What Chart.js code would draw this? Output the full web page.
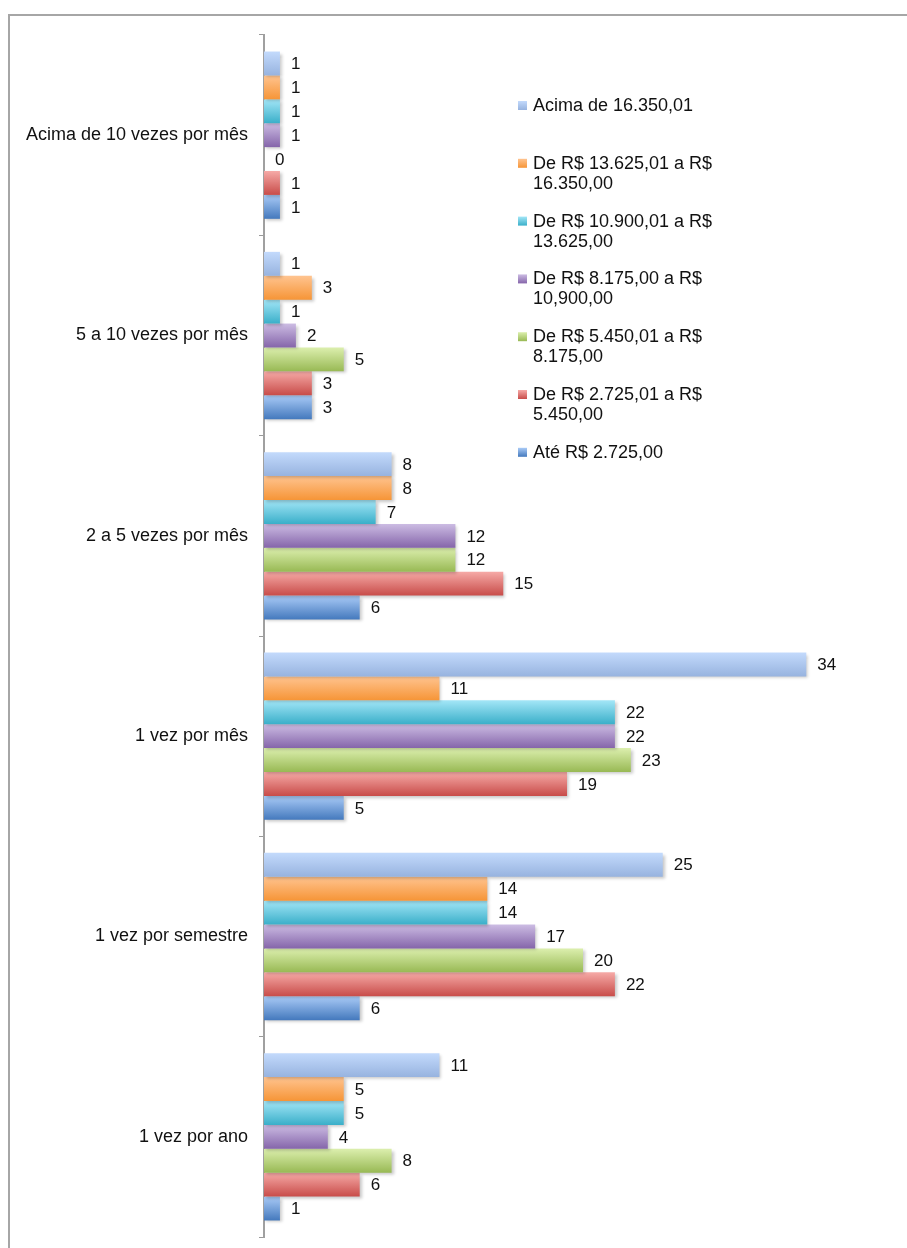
<!DOCTYPE html>
<html>
<head>
<meta charset="utf-8">
<script src="https://cdn.jsdelivr.net/npm/chart.js@4.4.0/dist/chart.umd.min.js"></script>
<style>
  html, body { margin: 0; padding: 0; background: #fff; }
  canvas { display: block; }
</style>
</head>
<body>
<canvas id="freqChart" width="907" height="1248"></canvas>
<script>
// categories, top to bottom
const categories = [
    "Acima de 10 vezes por mês",
    "5 a 10 vezes por mês",
    "2 a 5 vezes por mês",
    "1 vez por mês",
    "1 vez por semestre",
    "1 vez por ano",
];

// series names (same order as the bars inside each group, top to bottom)
const seriesNames = [
    "Acima de 16.350,01",
    "De R$ 13.625,01 a R$ 16.350,00",
    "De R$ 10.900,01 a R$ 13.625,00",
    "De R$ 8.175,00 a R$ 10,900,00",
    "De R$ 5.450,01 a R$ 8.175,00",
    "De R$ 2.725,01 a R$ 5.450,00",
    "Até R$ 2.725,00",
];

const acima16350 = [1, 1, 8, 34, 25, 11];
const de13625 = [1, 3, 8, 11, 14, 5];
const de10900 = [1, 1, 7, 22, 14, 5];
const de8175 = [1, 2, 12, 22, 17, 4];
const de5450 = [0, 5, 12, 23, 20, 8];
const de2725 = [1, 3, 15, 19, 22, 6];
const ate2725 = [1, 3, 6, 5, 6, 1];

const seriesValues = [acima16350, de13625, de10900, de8175, de5450, de2725, ate2725];

// gradient colours: [top, bottom]
const colors = [
    ["#c3dafc", "#97b3df"], // light blue
    ["#ffc490", "#f69537"], // orange
    ["#a3e6f7", "#3aafc9"], // cyan
    ["#ccbce3", "#8565aa"], // purple
    ["#dcefae", "#98b954"], // green
    ["#f6aaa7", "#c84c49"], // red
    ["#aacbf7", "#4479bd"], // blue
];

const FONT = "'Liberation Sans', Arial, sans-serif";

function barGradient(ctx, top, bottom, c) {
    const g = ctx.createLinearGradient(0, top, 0, bottom);
    g.addColorStop(0, c[0]);
    g.addColorStop(1, c[1]);
    return g;
}

// frame around the picture
const framePlugin = {
    id: "frame",
    beforeDraw(chart) {
        const ctx = chart.ctx;
        ctx.save();
        ctx.strokeStyle = "#a6a6a6";
        ctx.lineWidth = 2;
        ctx.beginPath();
        ctx.moveTo(907, 15);
        ctx.lineTo(9, 15);
        ctx.lineTo(9, 1248);
        ctx.stroke();
        ctx.restore();
    },
};

// gradient fill + soft shadow on the bars
const barStylePlugin = {
    id: "barStyle",
    beforeDatasetsDraw(chart) {
        const ctx = chart.ctx;
        chart.data.datasets.forEach((ds, i) => {
            const meta = chart.getDatasetMeta(i);
            meta.data.forEach((el) => {
                const h = el.height;
                el.options = Object.assign({}, el.options, {
                    backgroundColor: barGradient(ctx, el.y - h / 2, el.y + h / 2, colors[i]),
                });
            });
        });
        ctx.save();
        ctx.shadowColor = "rgba(0,0,0,0.22)";
        ctx.shadowOffsetX = 2;
        ctx.shadowOffsetY = 2;
        ctx.shadowBlur = 3;
    },
    afterDatasetsDraw(chart) {
        chart.ctx.restore();
    },
};

// value labels at the end of each bar
const valueLabelPlugin = {
    id: "valueLabels",
    afterDatasetsDraw(chart) {
        const ctx = chart.ctx;
        ctx.save();
        ctx.font = "17px " + FONT;
        ctx.fillStyle = "#111";
        ctx.textAlign = "left";
        ctx.textBaseline = "middle";
        chart.data.datasets.forEach((ds, i) => {
            chart.getDatasetMeta(i).data.forEach((el, j) => {
                ctx.fillText(String(ds.data[j]), el.x + 11, el.y + 1);
            });
        });
        ctx.restore();
    },
};

// legend drawn over the right part of the plot
const legendPlugin = {
    id: "sideLegend",
    afterDraw(chart) {
        const ctx = chart.ctx;
        const x = 518, y0 = 106, step = 57.8, lineH = 20, maxW = 200;
        ctx.save();
        ctx.font = "18px " + FONT;
        ctx.fillStyle = "#111";
        ctx.textAlign = "left";
        ctx.textBaseline = "middle";
        chart.data.datasets.forEach((ds, i) => {
            const y = y0 + i * step;
            ctx.fillStyle = barGradient(ctx, y - 5, y + 4, colors[i]);
            ctx.fillRect(x, y - 5, 9, 9);
            ctx.fillStyle = "#111";
            // wrap the label
            const words = ds.label.split(" ");
            const lines = [];
            let line = "";
            words.forEach((w) => {
                const test = line ? line + " " + w : w;
                if (ctx.measureText(test).width > maxW && line) {
                    lines.push(line);
                    line = w;
                } else {
                    line = test;
                }
            });
            lines.push(line);
            lines.forEach((l, k) => ctx.fillText(l, x + 15, y + k * lineH));
        });
        ctx.restore();
    },
};

const ctx = document.getElementById("freqChart").getContext("2d");
new Chart(ctx, {
    type: "bar",
    data: {
        labels: categories,
        datasets: seriesNames.map((name, i) => ({
            label: name,
            data: seriesValues[i],
            backgroundColor: colors[i][1],
            borderWidth: 0,
            categoryPercentage: 0.835,
            barPercentage: 1.0,
        })),
    },
    options: {
        indexAxis: "y",
        responsive: false,
        animation: false,
        layout: {
            padding: { top: 35, bottom: 11, left: 0, right: 5 },
        },
        scales: {
            x: {
                display: false,
                min: 0,
                max: 40,
            },
            y: {
                afterFit(scale) {
                    scale.width = 264;
                    scale.paddingTop = 0;
                    scale.paddingBottom = 0;
                },
                grid: {
                    drawOnChartArea: false,
                    color: "#9a9a9a",
                    tickLength: 5,
                    lineWidth: 1,
                },
                border: {
                    color: "#a0a0a0",
                    width: 2,
                },
                ticks: {
                    padding: 11,
                    color: "#111",
                    font: { family: FONT, size: 18 },
                },
            },
        },
        plugins: {
            legend: { display: false },
            tooltip: { enabled: false },
        },
    },
    plugins: [framePlugin, barStylePlugin, valueLabelPlugin, legendPlugin],
});
</script>
</body>
</html>
